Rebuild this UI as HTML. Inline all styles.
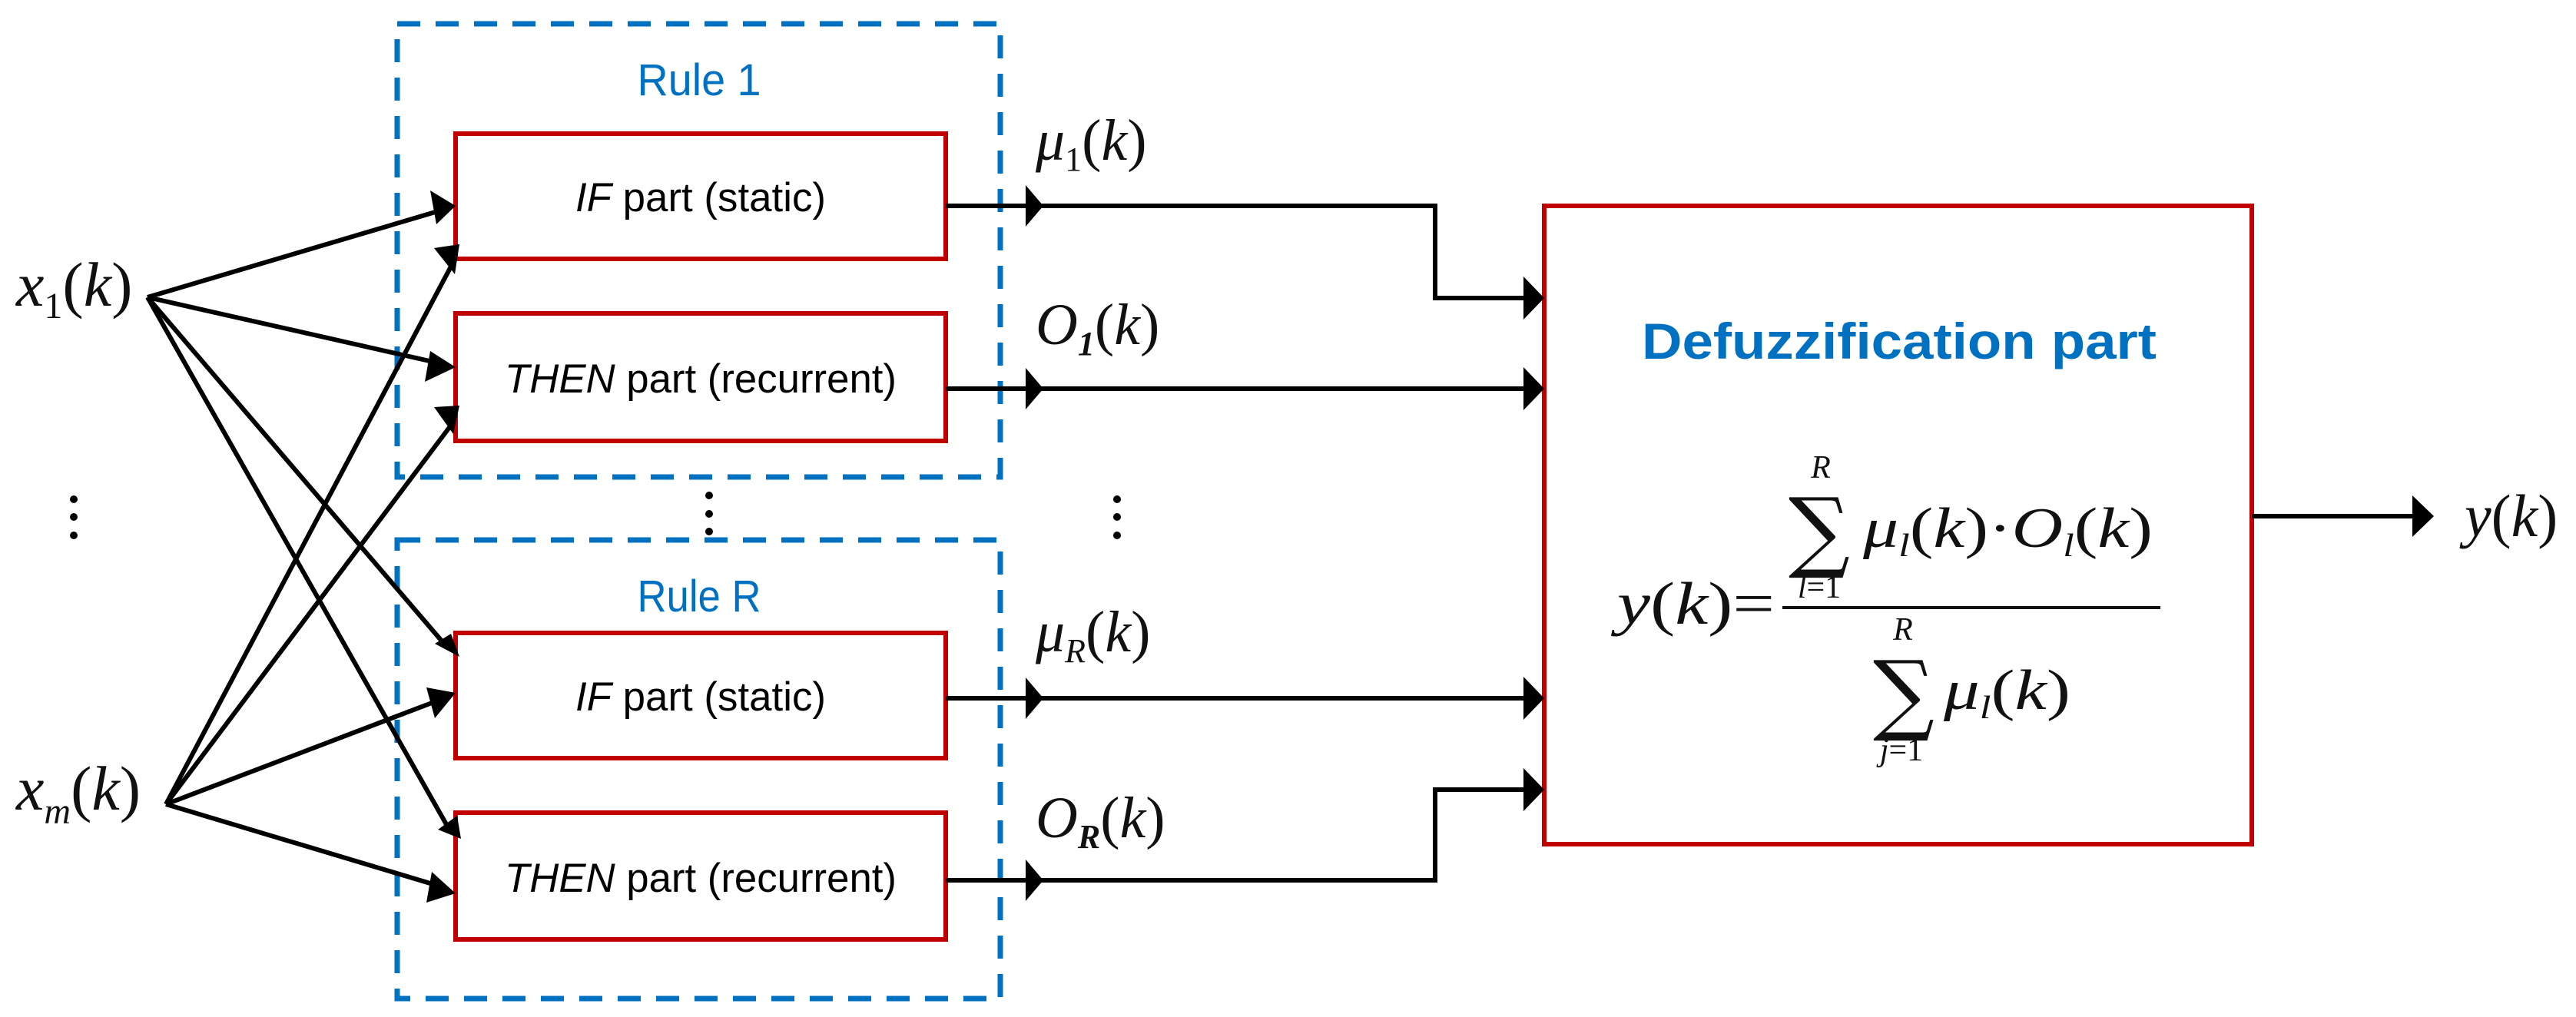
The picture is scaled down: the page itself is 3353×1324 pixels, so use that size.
<!DOCTYPE html>
<html><head><meta charset="utf-8"><style>
html,body{margin:0;padding:0;background:#fff;}
svg{display:block;}
.m{font-family:"Liberation Serif",serif;font-style:italic;fill:#111;}
.u{font-family:"Liberation Serif",serif;fill:#111;}
.s{font-family:"Liberation Sans",sans-serif;fill:#000;}
</style></head><body>
<svg width="3353" height="1324" viewBox="0 0 3353 1324" xmlns="http://www.w3.org/2000/svg">
<rect x="517" y="31" width="785" height="590" fill="none" stroke="#0070c0" stroke-width="7" stroke-dasharray="30 20"/>
<rect x="517" y="703" width="785" height="597" fill="none" stroke="#0070c0" stroke-width="7" stroke-dasharray="30 20"/>
<text x="910" y="124" text-anchor="middle" class="s" style="fill:#0070c0" font-size="58" textLength="161" lengthAdjust="spacingAndGlyphs">Rule 1</text>
<text x="910" y="796" text-anchor="middle" class="s" style="fill:#0070c0" font-size="58" textLength="161" lengthAdjust="spacingAndGlyphs">Rule R</text>
<g fill="#fff" stroke="#c00000" stroke-width="6">
<rect x="593" y="174" width="638" height="163"/>
<rect x="593" y="408" width="638" height="166"/>
<rect x="593" y="824" width="638" height="163"/>
<rect x="593" y="1058" width="638" height="165"/>
<rect x="2010" y="268" width="921" height="831"/>
</g>
<g class="s" font-size="53" text-anchor="middle">
<text x="912" y="275" textLength="326" lengthAdjust="spacingAndGlyphs"><tspan font-style="italic">IF</tspan> part (static)</text>
<text x="912" y="511" textLength="510" lengthAdjust="spacingAndGlyphs"><tspan font-style="italic">THEN</tspan> part (recurrent)</text>
<text x="912" y="925" textLength="326" lengthAdjust="spacingAndGlyphs"><tspan font-style="italic">IF</tspan> part (static)</text>
<text x="912" y="1161" textLength="510" lengthAdjust="spacingAndGlyphs"><tspan font-style="italic">THEN</tspan> part (recurrent)</text>
</g>
<g stroke="#000" stroke-width="6" fill="none">
<line x1="192" y1="387" x2="570" y2="275"/>
<line x1="192" y1="387" x2="568" y2="472"/>
<line x1="192" y1="387" x2="578" y2="838"/>
<line x1="192" y1="387" x2="582" y2="1075"/>
<line x1="216" y1="1047" x2="588" y2="345"/>
<line x1="216" y1="1047" x2="586" y2="555"/>
<line x1="216" y1="1047" x2="570" y2="912"/>
<line x1="216" y1="1047" x2="570" y2="1153"/>
</g>
<g fill="#000">
<polygon points="593,268 560,248 568,292"/>
<polygon points="593,478 560,457 553,497"/>
<polygon points="598,855 566,838 587,825"/>
<polygon points="600,1092 570,1080 595,1062"/>
<polygon points="598,318 565,323 592,357"/>
<polygon points="598,528 565,530 590,565"/>
<polygon points="593,902 555,895 566,935"/>
<polygon points="593,1163 562,1135 555,1175"/>
</g>
<g stroke="#000" stroke-width="6" fill="none">
<polyline points="1231,268 1868,268 1868,388 1990,388"/>
<line x1="1231" y1="506" x2="1990" y2="506"/>
<line x1="1231" y1="909" x2="1990" y2="909"/>
<polyline points="1231,1146 1868,1146 1868,1028 1990,1028"/>
<line x1="2931" y1="672" x2="3145" y2="672"/>
</g>
<g fill="#000">
<polygon points="1335,241 1358,268 1335,295"/>
<polygon points="1335,479 1358,506 1335,533"/>
<polygon points="1335,882 1358,909 1335,936"/>
<polygon points="1335,1119 1358,1146 1335,1173"/>
<polygon points="1983,360 2010,388 1983,416"/>
<polygon points="1983,478 2010,506 1983,534"/>
<polygon points="1983,881 2010,909 1983,937"/>
<polygon points="1983,1000 2010,1028 1983,1056"/>
<polygon points="3140,645 3168,672 3140,699"/>
</g>
<g fill="#000">
<circle cx="96" cy="650" r="5"/><circle cx="96" cy="673" r="5"/><circle cx="96" cy="697" r="5"/>
<circle cx="923" cy="645" r="5"/><circle cx="923" cy="669" r="5"/><circle cx="923" cy="692" r="5"/>
<circle cx="1454" cy="650" r="5"/><circle cx="1454" cy="673" r="5"/><circle cx="1454" cy="697" r="5"/>
</g>
<text x="21" y="398" class="m" font-size="82">x<tspan class="u" font-style="normal" font-size="48" dy="16">1</tspan><tspan class="u" font-style="normal" dy="-16">(</tspan>k<tspan class="u" font-style="normal">)</tspan></text>
<text x="21" y="1054" class="m" font-size="82">x<tspan font-size="48" dy="18">m</tspan><tspan class="u" font-style="normal" dy="-18">(</tspan>k<tspan class="u" font-style="normal">)</tspan></text>
<text x="1348" y="208" class="m" font-size="76">μ<tspan class="u" font-style="normal" font-size="44" dy="14">1</tspan><tspan class="u" font-style="normal" dy="-14">(</tspan>k<tspan class="u" font-style="normal">)</tspan></text>
<text x="1348" y="448" class="m" font-size="76">O<tspan font-size="44" font-weight="bold" dy="14">1</tspan><tspan class="u" font-style="normal" dy="-14">(</tspan>k<tspan class="u" font-style="normal">)</tspan></text>
<text x="1348" y="848" class="m" font-size="76">μ<tspan font-size="44" dy="14">R</tspan><tspan class="u" font-style="normal" dy="-14">(</tspan>k<tspan class="u" font-style="normal">)</tspan></text>
<text x="1348" y="1090" class="m" font-size="76">O<tspan font-size="44" font-weight="bold" dy="14">R</tspan><tspan class="u" font-style="normal" dy="-14">(</tspan>k<tspan class="u" font-style="normal">)</tspan></text>
<text x="3208" y="698" class="m" font-size="78">y<tspan class="u" font-style="normal">(</tspan>k<tspan class="u" font-style="normal">)</tspan></text>
<text x="2472" y="467" text-anchor="middle" class="s" font-weight="bold" font-size="66" style="fill:#0070c0" textLength="670" lengthAdjust="spacingAndGlyphs">Defuzzification part</text>
<text x="2105" y="812" class="m" font-size="78" textLength="205" lengthAdjust="spacingAndGlyphs">y<tspan class="u" font-style="normal">(</tspan>k<tspan class="u" font-style="normal">)=</tspan></text>
<line x1="2320" y1="791" x2="2812" y2="791" stroke="#111" stroke-width="4"/>
<text x="2370" y="622" text-anchor="middle" class="m" font-size="42">R</text>
<text x="2328" y="730" font-family="DejaVu Serif,serif" font-size="115" fill="#111" textLength="80" lengthAdjust="spacingAndGlyphs">∑</text>
<text x="2368" y="778" text-anchor="middle" class="m" font-size="42">l<tspan class="u" font-style="normal">=1</tspan></text>
<text x="2425" y="712" class="m" font-size="74" textLength="377" lengthAdjust="spacingAndGlyphs">μ<tspan font-size="42" dy="12">l</tspan><tspan class="u" font-style="normal" dy="-12">(</tspan>k<tspan class="u" font-style="normal">)·</tspan>O<tspan font-size="42" dy="12">l</tspan><tspan class="u" font-style="normal" dy="-12">(</tspan>k<tspan class="u" font-style="normal">)</tspan></text>
<text x="2477" y="833" text-anchor="middle" class="m" font-size="42">R</text>
<text x="2438" y="942" font-family="DejaVu Serif,serif" font-size="115" fill="#111" textLength="80" lengthAdjust="spacingAndGlyphs">∑</text>
<text x="2475" y="990" text-anchor="middle" class="m" font-size="42">j<tspan class="u" font-style="normal">=1</tspan></text>
<text x="2530" y="923" class="m" font-size="74" textLength="165" lengthAdjust="spacingAndGlyphs">μ<tspan font-size="42" dy="12">l</tspan><tspan class="u" font-style="normal" dy="-12">(</tspan>k<tspan class="u" font-style="normal">)</tspan></text>
</svg>
</body></html>
